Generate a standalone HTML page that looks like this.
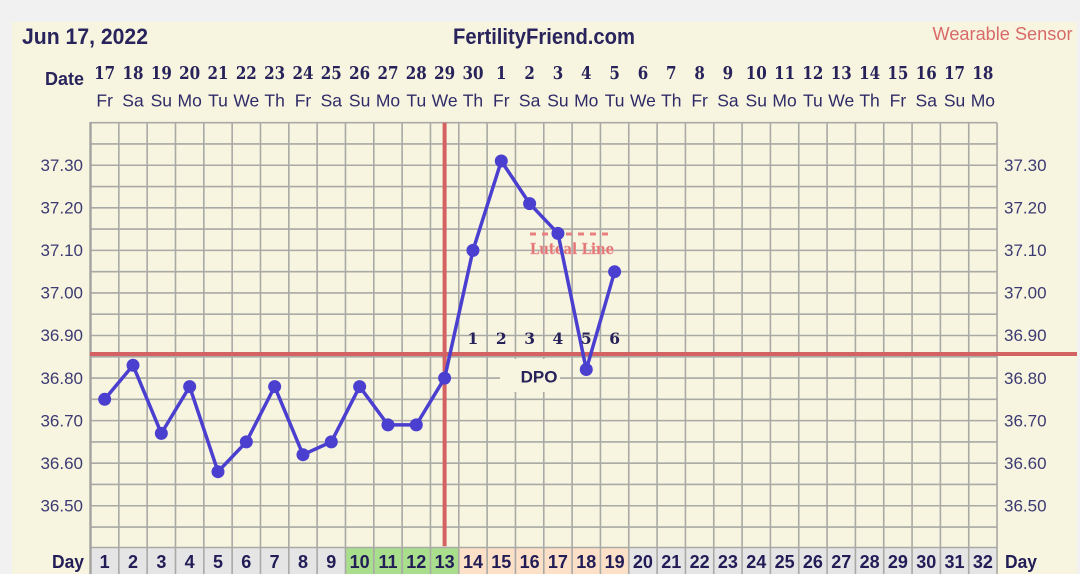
<!DOCTYPE html>
<html><head><meta charset="utf-8"><style>
html,body{margin:0;padding:0;background:#f1f1f1;}
svg{display:block;}
text{font-family:"Liberation Sans",sans-serif;}
.dn{font-family:"DejaVu Serif","Liberation Serif",serif;font-weight:bold;font-size:17.5px;fill:#27225a;text-anchor:middle;}
.wd{font-size:17.5px;fill:#2f2b68;text-anchor:middle;}
.yl{font-size:17px;fill:#3c3a72;}
.dy{font-weight:bold;font-size:18px;fill:#221d57;text-anchor:middle;}
.dpo{font-family:"DejaVu Serif","Liberation Serif",serif;font-weight:bold;font-size:15.5px;fill:#27225a;text-anchor:middle;}
</style></head><body>
<svg width="1080" height="574" viewBox="0 0 1080 574" xmlns="http://www.w3.org/2000/svg">
<rect width="1080" height="574" fill="#f1f1f1"/>
<rect x="12" y="22" width="1065" height="552" fill="#f7f5df"/>

<!-- day row fills -->
<g>
<rect x="90.5" y="547.5" width="254.97" height="27" fill="#e5e5e5"/>
<rect x="345.47" y="547.5" width="113.32" height="27" fill="#a9de8c"/>
<rect x="458.79" y="547.5" width="169.98" height="27" fill="#fce1c8"/>
<rect x="628.77" y="547.5" width="368.29" height="27" fill="#e5e5e5"/>
</g>

<!-- grid -->
<path fill="none" stroke="#a9a9a6" stroke-width="1.6" d="
M118.83 122.7V574 M147.16 122.7V574 M175.49 122.7V574 M203.82 122.7V574 M232.15 122.7V574 M260.48 122.7V574 M288.81 122.7V574 M317.14 122.7V574 M345.47 122.7V574 M373.8 122.7V574 M402.13 122.7V574 M430.46 122.7V574 M458.79 122.7V574 M487.12 122.7V574 M515.45 122.7V574 M543.78 122.7V574 M572.11 122.7V574 M600.44 122.7V574 M628.77 122.7V574 M657.1 122.7V574 M685.43 122.7V574 M713.76 122.7V574 M742.09 122.7V574 M770.42 122.7V574 M798.75 122.7V574 M827.08 122.7V574 M855.41 122.7V574 M883.74 122.7V574 M912.07 122.7V574 M940.4 122.7V574 M968.73 122.7V574 M997.06 122.7V574
M90.5 122.7H997.06 M90.5 143.98H997.06 M90.5 165.26H997.06 M90.5 186.54H997.06 M90.5 207.82H997.06 M90.5 229.1H997.06 M90.5 250.38H997.06 M90.5 271.66H997.06 M90.5 292.94H997.06 M90.5 314.22H997.06 M90.5 335.5H997.06 M90.5 356.78H997.06 M90.5 378.06H997.06 M90.5 399.34H997.06 M90.5 420.62H997.06 M90.5 441.9H997.06 M90.5 463.18H997.06 M90.5 484.46H997.06 M90.5 505.74H997.06 M90.5 527.02H997.06 M90.5 547.5H997.06"/>
<path d="M90.5 122V574" stroke="#a2a2a0" stroke-width="2.4"/>

<!-- DPO box -->
<rect x="500" y="359" width="60" height="33" fill="#f7f5df"/>

<!-- coverline and ovulation line -->
<rect x="90" y="352" width="987" height="4" fill="#d46262"/>
<rect x="442.6" y="122.7" width="4" height="423.5" fill="#d46262"/>

<!-- luteal line -->
<path d="M530 234H614" stroke="#e98080" stroke-width="3" stroke-dasharray="6,6"/>
<text x="530" y="254" textLength="84" lengthAdjust="spacingAndGlyphs" style="font-family:'DejaVu Serif','Liberation Serif',serif;font-weight:bold;font-size:15px;fill:#e27474;stroke:#eea0a0;stroke-width:0.5">Luteal Line</text>

<!-- series -->
<polyline fill="none" stroke="#4b3fd0" stroke-width="3.5" stroke-linejoin="round" points="104.67,399.3 133,365.3 161.33,433.4 189.66,386.6 217.99,471.7 246.32,441.9 274.65,386.6 302.98,454.7 331.31,441.9 359.64,386.6 387.97,424.9 416.3,424.9 444.63,378.1 472.96,250.4 501.29,161 529.62,203.6 557.95,233.4 586.28,369.5 614.61,271.7"/>
<g fill="#4b3fd0">
<circle cx="104.67" cy="399.3" r="6.5"/><circle cx="133" cy="365.3" r="6.5"/><circle cx="161.33" cy="433.4" r="6.5"/><circle cx="189.66" cy="386.6" r="6.5"/><circle cx="217.99" cy="471.7" r="6.5"/><circle cx="246.32" cy="441.9" r="6.5"/><circle cx="274.65" cy="386.6" r="6.5"/><circle cx="302.98" cy="454.7" r="6.5"/><circle cx="331.31" cy="441.9" r="6.5"/><circle cx="359.64" cy="386.6" r="6.5"/><circle cx="387.97" cy="424.9" r="6.5"/><circle cx="416.3" cy="424.9" r="6.5"/><circle cx="444.63" cy="378.1" r="6.5"/><circle cx="472.96" cy="250.4" r="6.5"/><circle cx="501.29" cy="161" r="6.5"/><circle cx="529.62" cy="203.6" r="6.5"/><circle cx="557.95" cy="233.4" r="6.5"/><circle cx="586.28" cy="369.5" r="6.5"/><circle cx="614.61" cy="271.7" r="6.5"/>
</g>

<!-- DPO labels -->
<text class="dpo" x="472.96" y="344">1</text>
<text class="dpo" x="501.29" y="344">2</text>
<text class="dpo" x="529.62" y="344">3</text>
<text class="dpo" x="557.95" y="344">4</text>
<text class="dpo" x="586.28" y="344">5</text>
<text class="dpo" x="614.61" y="344">6</text>
<text x="539" y="382.5" text-anchor="middle" style="font-weight:bold;font-size:17px;fill:#27225a">DPO</text>

<!-- header -->
<text x="22" y="44" textLength="126" lengthAdjust="spacingAndGlyphs" style="font-weight:bold;font-size:22px;fill:#29245c">Jun 17, 2022</text>
<text x="453" y="44" textLength="182" lengthAdjust="spacingAndGlyphs" style="font-weight:bold;font-size:22px;fill:#29245c">FertilityFriend.com</text>
<text x="932.5" y="40" textLength="140" lengthAdjust="spacingAndGlyphs" style="font-size:18px;fill:#d96a6a">Wearable Sensor</text>
<text x="45" y="85" textLength="39" lengthAdjust="spacingAndGlyphs" style="font-weight:bold;font-size:18.5px;fill:#29245c">Date</text>

<!-- date numbers -->
<text class="dn" x="104.67" y="79" textLength="21" lengthAdjust="spacingAndGlyphs">17</text><text class="dn" x="133" y="79" textLength="21" lengthAdjust="spacingAndGlyphs">18</text><text class="dn" x="161.33" y="79" textLength="21" lengthAdjust="spacingAndGlyphs">19</text><text class="dn" x="189.66" y="79" textLength="21" lengthAdjust="spacingAndGlyphs">20</text><text class="dn" x="217.99" y="79" textLength="21" lengthAdjust="spacingAndGlyphs">21</text><text class="dn" x="246.32" y="79" textLength="21" lengthAdjust="spacingAndGlyphs">22</text><text class="dn" x="274.65" y="79" textLength="21" lengthAdjust="spacingAndGlyphs">23</text><text class="dn" x="302.98" y="79" textLength="21" lengthAdjust="spacingAndGlyphs">24</text><text class="dn" x="331.31" y="79" textLength="21" lengthAdjust="spacingAndGlyphs">25</text><text class="dn" x="359.64" y="79" textLength="21" lengthAdjust="spacingAndGlyphs">26</text><text class="dn" x="387.97" y="79" textLength="21" lengthAdjust="spacingAndGlyphs">27</text><text class="dn" x="416.3" y="79" textLength="21" lengthAdjust="spacingAndGlyphs">28</text><text class="dn" x="444.63" y="79" textLength="21" lengthAdjust="spacingAndGlyphs">29</text><text class="dn" x="472.96" y="79" textLength="21" lengthAdjust="spacingAndGlyphs">30</text><text class="dn" x="501.29" y="79" textLength="10.5" lengthAdjust="spacingAndGlyphs">1</text><text class="dn" x="529.62" y="79" textLength="10.5" lengthAdjust="spacingAndGlyphs">2</text><text class="dn" x="557.95" y="79" textLength="10.5" lengthAdjust="spacingAndGlyphs">3</text><text class="dn" x="586.28" y="79" textLength="10.5" lengthAdjust="spacingAndGlyphs">4</text><text class="dn" x="614.61" y="79" textLength="10.5" lengthAdjust="spacingAndGlyphs">5</text><text class="dn" x="642.94" y="79" textLength="10.5" lengthAdjust="spacingAndGlyphs">6</text><text class="dn" x="671.27" y="79" textLength="10.5" lengthAdjust="spacingAndGlyphs">7</text><text class="dn" x="699.6" y="79" textLength="10.5" lengthAdjust="spacingAndGlyphs">8</text><text class="dn" x="727.93" y="79" textLength="10.5" lengthAdjust="spacingAndGlyphs">9</text><text class="dn" x="756.26" y="79" textLength="21" lengthAdjust="spacingAndGlyphs">10</text><text class="dn" x="784.59" y="79" textLength="21" lengthAdjust="spacingAndGlyphs">11</text><text class="dn" x="812.92" y="79" textLength="21" lengthAdjust="spacingAndGlyphs">12</text><text class="dn" x="841.25" y="79" textLength="21" lengthAdjust="spacingAndGlyphs">13</text><text class="dn" x="869.58" y="79" textLength="21" lengthAdjust="spacingAndGlyphs">14</text><text class="dn" x="897.91" y="79" textLength="21" lengthAdjust="spacingAndGlyphs">15</text><text class="dn" x="926.24" y="79" textLength="21" lengthAdjust="spacingAndGlyphs">16</text><text class="dn" x="954.57" y="79" textLength="21" lengthAdjust="spacingAndGlyphs">17</text><text class="dn" x="982.9" y="79" textLength="21" lengthAdjust="spacingAndGlyphs">18</text>

<!-- weekdays -->
<text class="wd" x="104.67" y="106.5">Fr</text><text class="wd" x="133" y="106.5">Sa</text><text class="wd" x="161.33" y="106.5">Su</text><text class="wd" x="189.66" y="106.5">Mo</text><text class="wd" x="217.99" y="106.5">Tu</text><text class="wd" x="246.32" y="106.5">We</text><text class="wd" x="274.65" y="106.5">Th</text><text class="wd" x="302.98" y="106.5">Fr</text><text class="wd" x="331.31" y="106.5">Sa</text><text class="wd" x="359.64" y="106.5">Su</text><text class="wd" x="387.97" y="106.5">Mo</text><text class="wd" x="416.3" y="106.5">Tu</text><text class="wd" x="444.63" y="106.5">We</text><text class="wd" x="472.96" y="106.5">Th</text><text class="wd" x="501.29" y="106.5">Fr</text><text class="wd" x="529.62" y="106.5">Sa</text><text class="wd" x="557.95" y="106.5">Su</text><text class="wd" x="586.28" y="106.5">Mo</text><text class="wd" x="614.61" y="106.5">Tu</text><text class="wd" x="642.94" y="106.5">We</text><text class="wd" x="671.27" y="106.5">Th</text><text class="wd" x="699.6" y="106.5">Fr</text><text class="wd" x="727.93" y="106.5">Sa</text><text class="wd" x="756.26" y="106.5">Su</text><text class="wd" x="784.59" y="106.5">Mo</text><text class="wd" x="812.92" y="106.5">Tu</text><text class="wd" x="841.25" y="106.5">We</text><text class="wd" x="869.58" y="106.5">Th</text><text class="wd" x="897.91" y="106.5">Fr</text><text class="wd" x="926.24" y="106.5">Sa</text><text class="wd" x="954.57" y="106.5">Su</text><text class="wd" x="982.9" y="106.5">Mo</text>

<!-- y labels left -->
<g text-anchor="end">
<text class="yl" x="83" y="171">37.30</text><text class="yl" x="83" y="213.5">37.20</text><text class="yl" x="83" y="256.1">37.10</text><text class="yl" x="83" y="298.6">37.00</text><text class="yl" x="83" y="341.2">36.90</text><text class="yl" x="83" y="383.8">36.80</text><text class="yl" x="83" y="426.3">36.70</text><text class="yl" x="83" y="468.9">36.60</text><text class="yl" x="83" y="511.4">36.50</text>
</g>
<!-- y labels right -->
<g>
<text class="yl" x="1004" y="171">37.30</text><text class="yl" x="1004" y="213.5">37.20</text><text class="yl" x="1004" y="256.1">37.10</text><text class="yl" x="1004" y="298.6">37.00</text><text class="yl" x="1004" y="341.2">36.90</text><text class="yl" x="1004" y="383.8">36.80</text><text class="yl" x="1004" y="426.3">36.70</text><text class="yl" x="1004" y="468.9">36.60</text><text class="yl" x="1004" y="511.4">36.50</text>
</g>

<!-- day row -->
<text x="52" y="568" textLength="32" lengthAdjust="spacingAndGlyphs" style="font-weight:bold;font-size:18px;fill:#221d57">Day</text>
<text x="1005" y="568" textLength="32" lengthAdjust="spacingAndGlyphs" style="font-weight:bold;font-size:18px;fill:#221d57">Day</text>
<text class="dy" x="104.67" y="568">1</text><text class="dy" x="133" y="568">2</text><text class="dy" x="161.33" y="568">3</text><text class="dy" x="189.66" y="568">4</text><text class="dy" x="217.99" y="568">5</text><text class="dy" x="246.32" y="568">6</text><text class="dy" x="274.65" y="568">7</text><text class="dy" x="302.98" y="568">8</text><text class="dy" x="331.31" y="568">9</text><text class="dy" x="359.64" y="568">10</text><text class="dy" x="387.97" y="568">11</text><text class="dy" x="416.3" y="568">12</text><text class="dy" x="444.63" y="568">13</text><text class="dy" x="472.96" y="568">14</text><text class="dy" x="501.29" y="568">15</text><text class="dy" x="529.62" y="568">16</text><text class="dy" x="557.95" y="568">17</text><text class="dy" x="586.28" y="568">18</text><text class="dy" x="614.61" y="568">19</text><text class="dy" x="642.94" y="568">20</text><text class="dy" x="671.27" y="568">21</text><text class="dy" x="699.6" y="568">22</text><text class="dy" x="727.93" y="568">23</text><text class="dy" x="756.26" y="568">24</text><text class="dy" x="784.59" y="568">25</text><text class="dy" x="812.92" y="568">26</text><text class="dy" x="841.25" y="568">27</text><text class="dy" x="869.58" y="568">28</text><text class="dy" x="897.91" y="568">29</text><text class="dy" x="926.24" y="568">30</text><text class="dy" x="954.57" y="568">31</text><text class="dy" x="982.9" y="568">32</text>
</svg>
</body></html>
